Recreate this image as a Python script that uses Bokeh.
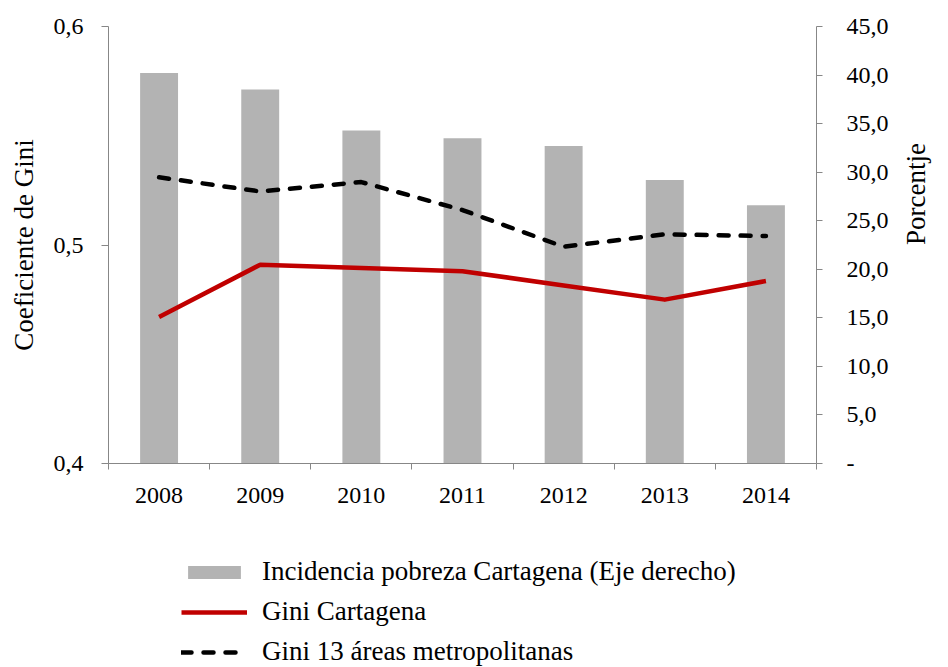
import math
from bokeh.plotting import figure
from bokeh.layouts import column
from bokeh.models import (Range1d, LinearAxis, FixedTicker, CustomJSTickFormatter,
                          Legend, LegendItem, ColumnDataSource)
from bokeh.embed import file_html
from bokeh.resources import INLINE

# ---- data ----
years = [2008, 2009, 2010, 2011, 2012, 2013, 2014]
pobreza_cartagena = [40.2, 38.5, 34.3, 33.5, 32.7, 29.2, 26.6]
gini_cartagena = [0.467, 0.491, 0.4895, 0.488, 0.4815, 0.475, 0.4835]
gini_13_areas = [0.531, 0.5245, 0.5288, 0.516, 0.4992, 0.5049, 0.5041]
left_ticks = [0.4, 0.5, 0.6]
right_ticks = [0, 5, 10, 15, 20, 25, 30, 35, 40, 45]
year_bounds = [2007.5, 2008.5, 2009.5, 2010.5, 2011.5, 2012.5, 2013.5, 2014.5]

labels = ["Incidencia pobreza Cartagena (Eje derecho)",
          "Gini Cartagena",
          "Gini 13 áreas metropolitanas"]

FONT = "Liberation Serif"
AXIS_GRAY = "#878787"
BAR_GRAY = "#b3b3b3"
RED = "#c00000"

src = ColumnDataSource(dict(year=years, pob=pobreza_cartagena,
                            gc=gini_cartagena, g13=gini_13_areas))

W = 948
H1 = 523
H2 = 667 - H1

p = figure(width=W, height=H1, output_backend="svg", toolbar_location=None,
           x_range=Range1d(2007.5, 2014.5), y_range=Range1d(0.4, 0.6),
           min_border_left=108, min_border_right=131, min_border_top=26,
           min_border_bottom=60)
p.extra_y_ranges = {"right": Range1d(0, 45)}
p.outline_line_color = None
p.xgrid.visible = False
p.ygrid.visible = False
p.background_fill_color = "white"
p.border_fill_color = "white"

p.vbar(x="year", top="pob", width=0.375, source=src, y_range_name="right",
       fill_color=BAR_GRAY, line_color=None)
p.line(x="year", y="g13", source=src, line_color="black", line_width=4.5,
       line_dash="10 12", line_cap="round")
p.line(x="year", y="gc", source=src, line_color=RED, line_width=4.5,
       line_join="round")

# x axis
xa = p.xaxis[0]
xa.ticker = FixedTicker(ticks=years, minor_ticks=year_bounds)
xa.formatter = CustomJSTickFormatter(code="return tick.toFixed(0);")
xa.major_tick_out = 0
xa.major_tick_in = 0
xa.minor_tick_out = 6
xa.minor_tick_in = 0
xa.minor_tick_line_color = AXIS_GRAY
xa.axis_line_color = AXIS_GRAY
xa.major_label_standoff = 18

# left axis
ya = p.yaxis[0]
ya.ticker = FixedTicker(ticks=left_ticks)
ya.formatter = CustomJSTickFormatter(code="return tick.toFixed(1).replace('.', ',');")
ya.major_tick_out = 7
ya.major_tick_in = 0
ya.minor_tick_out = 0
ya.minor_tick_in = 0
ya.major_tick_line_color = AXIS_GRAY
ya.axis_line_color = AXIS_GRAY
ya.major_label_standoff = 18
ya.axis_label = "Coeficiente de Gini"
ya.axis_label_standoff = 12

# right axis (ticks and tick labels)
ra = LinearAxis(y_range_name="right",
                ticker=FixedTicker(ticks=right_ticks),
                formatter=CustomJSTickFormatter(
                    code="return tick == 0 ? '-' : tick.toFixed(1).replace('.', ',');"))
ra.major_tick_out = 6
ra.major_tick_in = 0
ra.minor_tick_out = 0
ra.minor_tick_in = 0
ra.major_tick_line_color = AXIS_GRAY
ra.axis_line_color = AXIS_GRAY
ra.major_label_standoff = 24
p.add_layout(ra, "right")

# right axis title (separate, tickless axis carrying only the title)
rt = LinearAxis(y_range_name="right", ticker=FixedTicker(ticks=[]),
                bounds=(0, 39.4))
rt.axis_line_color = None
rt.major_tick_out = 0
rt.major_tick_in = 0
rt.minor_tick_out = 0
rt.minor_tick_in = 0
rt.major_label_standoff = 0
rt.axis_label = "Porcentje"
rt.axis_label_standoff = 24
rt.axis_label_orientation = math.pi / 2
p.add_layout(rt, "right")

for ax in (xa, ya, ra, rt):
    ax.major_label_text_font = FONT
    ax.major_label_text_font_size = "24px"
    ax.major_label_text_color = "black"
    ax.axis_label_text_font = FONT
    ax.axis_label_text_font_size = "27px"
    ax.axis_label_text_font_style = "normal"
    ax.axis_label_text_color = "black"
    ax.axis_line_width = 1

# ---- legend strip (same series, styled identically, renderers hidden) ----
q = figure(width=W, height=H2, output_backend="svg", toolbar_location=None,
           x_range=Range1d(2007.5, 2014.5), y_range=Range1d(0, 1),
           x_axis_location=None, y_axis_location=None,
           min_border_left=0, min_border_right=0, min_border_top=0,
           min_border_bottom=0)
q.outline_line_color = None
q.xgrid.visible = False
q.ygrid.visible = False
q.border_fill_color = "white"

rb = q.vbar(x="year", top="pob", width=0.375, source=src,
            fill_color=BAR_GRAY, line_color=None, visible=False)
rc = q.line(x="year", y="gc", source=src, line_color=RED, line_width=4.5,
            visible=False)
r13 = q.line(x="year", y="g13", source=src, line_color="black", line_width=4.5,
             line_dash="10 12", line_cap="round", visible=False)

legend = Legend(items=[LegendItem(label=labels[0], renderers=[rb]),
                       LegendItem(label=labels[1], renderers=[rc]),
                       LegendItem(label=labels[2], renderers=[r13])],
                location=(73, 0), orientation="vertical",
                label_text_font=FONT, label_text_font_size="27px",
                label_text_color="black",
                glyph_width=66, glyph_height=16, label_standoff=15,
                spacing=9, padding=0, margin=0,
                inactive_fill_alpha=0,
                border_line_color=None, background_fill_alpha=0)
q.add_layout(legend)

layout = column(p, q, spacing=0)
open("out.html", "w").write(file_html(layout, INLINE))
